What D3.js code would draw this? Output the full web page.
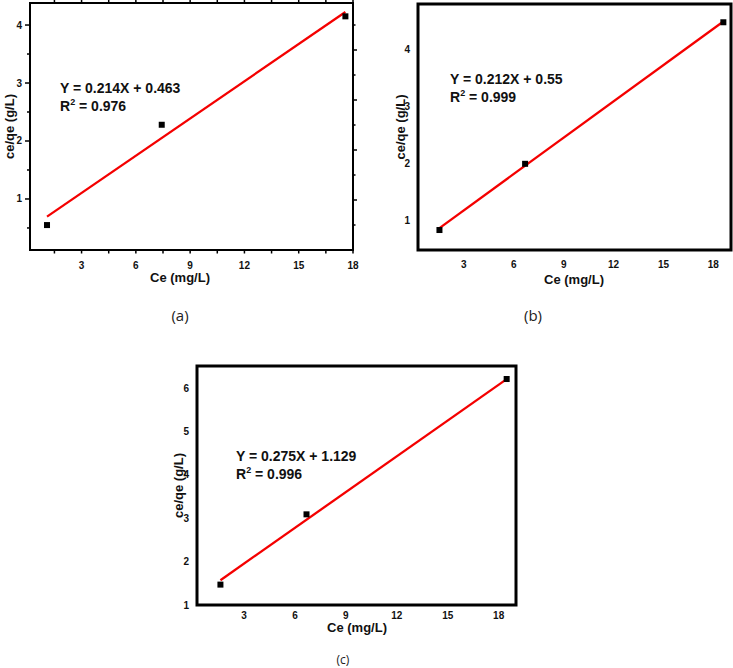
<!DOCTYPE html>
<html>
<head>
<meta charset="utf-8">
<script src="https://cdn.jsdelivr.net/npm/d3@7"></script>
<style>
  html, body { margin: 0; padding: 0; background: #fff; }
  svg { display: block; font-family: "Liberation Sans", Arial, sans-serif; }
  .tick-lbl { font-size: 10px; font-weight: bold; fill: #111; }
  .ax-title { font-size: 13px; font-weight: bold; fill: #111; }
  .eq { font-size: 14px; font-weight: bold; fill: #111; }
  .cap { font-family: "Open Sans", "DejaVu Sans", sans-serif; fill: #222; }
</style>
</head>
<body>
<div id="chart"></div>
<script>
// measured points (Ce in mg/L, Ce/qe in g/L)
const ceA = [1.09, 7.43, 17.58];
const qA  = [0.55, 2.28, 4.15];
const ceB = [1.53, 6.68, 18.6];
const qB  = [0.84, 2.0, 4.48];
const ceC = [1.61, 6.68, 18.47];
const qC  = [1.47, 3.09, 6.21];

// linear fits as printed on the figure
const fitA = { slope: 0.214, icpt: 0.463, eq: 'Y = 0.214X + 0.463', r2: '0.976' };
const fitB = { slope: 0.212, icpt: 0.55,  eq: 'Y = 0.212X + 0.55',  r2: '0.999' };
const fitC = { slope: 0.275, icpt: 1.129, eq: 'Y = 0.275X + 1.129', r2: '0.996' };

const xTicks  = [3, 6, 9, 12, 15, 18];
const yTicksA = [1, 2, 3, 4];
const yTicksB = [1, 2, 3, 4];
const yTicksC = [1, 2, 3, 4, 5, 6];

const W = 733, H = 668;
const svg = d3.select('#chart').append('svg').attr('width', W).attr('height', H);
svg.append('rect').attr('width', W).attr('height', H).attr('fill', '#fff');

function panel(o) {
  const g = svg.append('g').attr('transform', `translate(${o.x0},${o.y0})`);
  const w = o.x1 - o.x0, h = o.y1 - o.y0;
  const x = d3.scaleLinear().domain(o.xDom).range([0, w]);
  const y = d3.scaleLinear().domain(o.yDom).range([h, 0]);

  // fit line
  const xs = d3.extent(o.ce);
  const fitPts = xs.map(v => [v, o.fit.slope * v + o.fit.icpt]);
  g.append('path').datum(fitPts)
    .attr('fill', 'none').attr('stroke', '#f40000').attr('stroke-width', 2.3)
    .attr('d', d3.line().x(d => x(d[0])).y(d => y(d[1])));

  // points
  g.selectAll(null).data(o.ce.map((c, i) => [c, o.q[i]])).enter().append('rect')
    .attr('x', d => x(d[0]) - 3).attr('y', d => y(d[1]) - 3)
    .attr('width', 6).attr('height', 6).attr('fill', '#000');

  // ticks (only panel a has them)
  if (o.ticks) {
    const minorX = d3.range(1.5, 18.01, 1.5);
    g.selectAll(null).data(minorX).enter().append('line')
      .attr('x1', d => x(d)).attr('x2', d => x(d))
      .attr('y1', h).attr('y2', h + 3.5).attr('stroke', '#000').attr('stroke-width', 1.5);
    g.selectAll(null).data(minorX).enter().append('line')
      .attr('x1', d => x(d)).attr('x2', d => x(d))
      .attr('y1', 0).attr('y2', -3).attr('stroke', '#000').attr('stroke-width', 1.5);
    const yMin = d3.range(0.5, 4.31, 0.5);
    g.selectAll(null).data(yMin).enter().append('line')
      .attr('x1', d => Number.isInteger(d) ? -5 : -3).attr('x2', 0)
      .attr('y1', d => y(d)).attr('y2', d => y(d)).attr('stroke', '#000').attr('stroke-width', 1.5);
    // the right axis of panel (a) runs on its own scale in the source figure
    const yR = d3.scaleLinear().domain([0, h / 50]).range([h, 0]);
    g.selectAll(null).data(d3.range(0.5, 4.91, 0.5)).enter().append('line')
      .attr('x1', w).attr('x2', d => w + (Number.isInteger(d) ? 4 : 2.5))
      .attr('y1', d => yR(d)).attr('y2', d => yR(d)).attr('stroke', '#000').attr('stroke-width', 1.5);
  }

  // frame
  g.append('rect').attr('width', w).attr('height', h)
    .attr('fill', 'none').attr('stroke', '#000').attr('stroke-width', o.frame);

  // tick labels
  g.selectAll(null).data(xTicks).enter().append('text').attr('class', 'tick-lbl')
    .attr('x', d => x(d)).attr('y', h + o.xLblDy).attr('text-anchor', 'middle').text(d => d);
  g.selectAll(null).data(o.yTicks).enter().append('text').attr('class', 'tick-lbl')
    .attr('x', -o.yLblDx).attr('y', d => y(d) + 3.5).attr('text-anchor', 'end').text(d => d);

  // axis titles
  g.append('text').attr('class', 'ax-title')
    .attr('x', o.xTitle[0] - o.x0).attr('y', o.xTitle[1] - o.y0)
    .attr('text-anchor', 'middle').attr('dominant-baseline', 'central').text('Ce (mg/L)');
  g.append('text').attr('class', 'ax-title')
    .attr('transform', `translate(${o.yTitle[0] - o.x0},${h / 2}) rotate(-90)`)
    .attr('text-anchor', 'middle').attr('dominant-baseline', 'central').text('ce/qe (g/L)');

  // equation
  const ex = o.eqPos[0] - o.x0, ey = o.eqPos[1] - o.y0;
  g.append('text').attr('class', 'eq').attr('x', ex).attr('y', ey).text(o.fit.eq);
  const r = g.append('text').attr('class', 'eq').attr('x', ex).attr('y', ey + 18);
  r.append('tspan').text('R');
  r.append('tspan').attr('font-size', 9).attr('dy', -6).text('2');
  r.append('tspan').attr('dy', 6).text(' = ' + o.fit.r2);

  // caption
  svg.append('text').attr('class', 'cap')
    .attr('x', o.cap[0]).attr('y', o.cap[1]).attr('font-size', o.cap[2])
    .attr('text-anchor', 'middle').attr('dominant-baseline', 'central').text(o.label);
}

panel({
  x0: 30, x1: 353, y0: 3, y1: 250, xDom: [0.15, 18], yDom: [0.12, 4.38],
  ce: ceA, q: qA, fit: fitA, yTicks: yTicksA, ticks: true, frame: 2,
  xLblDy: 19, yLblDx: 8, xTitle: [180, 277], yTitle: [9], eqPos: [60, 93],
  cap: [180, 315, 15], label: '(a)'
});
panel({
  x0: 418, x1: 731, y0: 4, y1: 250, xDom: [0.24, 19.06], yDom: [0.49, 4.8],
  ce: ceB, q: qB, fit: fitB, yTicks: yTicksB, ticks: false, frame: 3,
  xLblDy: 18, yLblDx: 8, xTitle: [574, 279], yTitle: [400], eqPos: [450, 84],
  cap: [533, 315, 15], label: '(b)'
});
panel({
  x0: 197, x1: 516, y0: 366, y1: 605, xDom: [0.23, 19.02], yDom: [1.0, 6.51],
  ce: ceC, q: qC, fit: fitC, yTicks: yTicksC, ticks: false, frame: 3,
  xLblDy: 14, yLblDx: 8, xTitle: [357, 627], yTitle: [178], eqPos: [236, 461],
  cap: [343, 659, 12], label: '(c)'
});
</script>
</body>
</html>
